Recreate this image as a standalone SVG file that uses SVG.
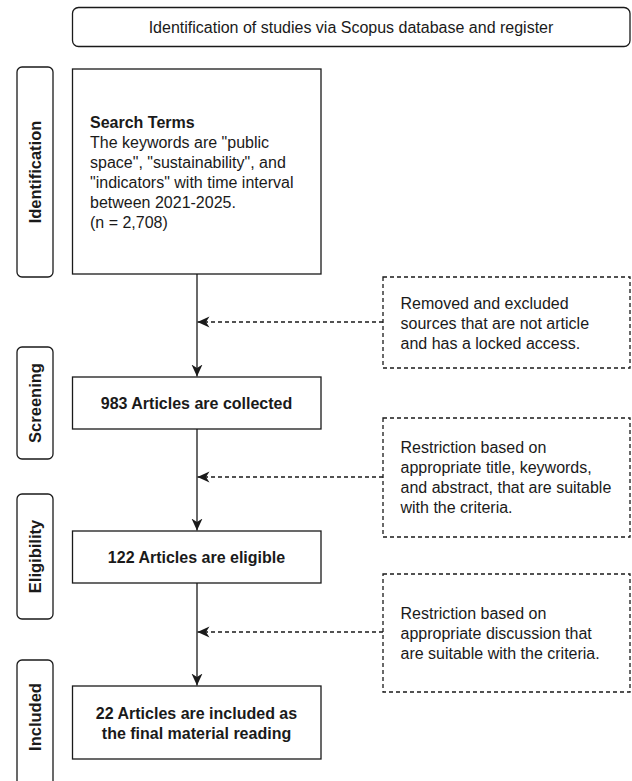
<svg xmlns="http://www.w3.org/2000/svg" width="632" height="781" viewBox="0 0 632 781">
<defs>
<style>
text{font-family:"Liberation Sans",Arial,sans-serif;font-size:16px;fill:#1a1a1a}
.b{font-weight:bold}
.box{fill:#fff;stroke:#1a1a1a;stroke-width:1.3}
.dbox{fill:#fff;stroke:#1a1a1a;stroke-width:1.3;stroke-dasharray:4 3}
.lab{fill:#fff;stroke:#1a1a1a;stroke-width:1.3}
.ln{fill:none;stroke:#1a1a1a;stroke-width:1.3}
.dl{fill:none;stroke:#1a1a1a;stroke-width:1.3;stroke-dasharray:4 3}
.lt{font-weight:bold;font-size:16.5px;text-anchor:middle}
.c{text-anchor:middle}
</style>
<marker id="arr" viewBox="0 0 12 12" refX="12" refY="6" markerWidth="12" markerHeight="12" markerUnits="userSpaceOnUse" orient="auto">
<path d="M0,0.5 L12,6 L0,11.5 L3.5,6 Z" fill="#1a1a1a"/>
</marker>
</defs>
<rect width="632" height="781" fill="#fff"/>

<g id="title">
<rect class="box" x="72.5" y="7.5" width="557.5" height="39" rx="6"/>
<text class="c" x="351" y="33">Identification of studies via Scopus database and register</text>
</g>

<g id="label-identification">
<rect class="lab" x="17" y="67" width="36" height="210" rx="5"/>
<text class="lt" transform="translate(35,172) rotate(-90)" y="6">Identification</text>
</g>
<g id="label-screening">
<rect class="lab" x="17" y="347" width="36" height="112" rx="5"/>
<text class="lt" transform="translate(35,403) rotate(-90)" y="6">Screening</text>
</g>
<g id="label-eligibility">
<rect class="lab" x="17" y="494" width="36" height="125" rx="5"/>
<text class="lt" transform="translate(35,556.5) rotate(-90)" y="6">Eligibility</text>
</g>
<g id="label-included">
<rect class="lab" x="17" y="660" width="36" height="150" rx="5"/>
<text class="lt" transform="translate(35,717) rotate(-90)" y="6">Included</text>
</g>

<g id="search-terms">
<rect class="box" x="72.5" y="69" width="248.5" height="205"/>
<text class="b" x="90" y="127.5">Search Terms</text>
<text x="90" y="147.6">The keywords are "public</text>
<text x="90" y="167.7">space", "sustainability", and</text>
<text x="90" y="187.8">"indicators" with time interval</text>
<text x="90" y="207.9">between 2021-2025.</text>
<text x="90" y="228">(n = 2,708)</text>
</g>

<g id="collected">
<rect class="box" x="72.5" y="377" width="248.5" height="52"/>
<text class="b c" x="196.5" y="409">983 Articles are collected</text>
</g>

<g id="eligible">
<rect class="box" x="72.5" y="531" width="248.5" height="52"/>
<text class="b c" x="196.5" y="563">122 Articles are eligible</text>
</g>

<g id="included">
<rect class="box" x="72.5" y="686" width="248.5" height="73"/>
<text class="b c" x="196.5" y="719">22 Articles are included as</text>
<text class="b c" x="196.5" y="739">the final material reading</text>
</g>

<g id="removed">
<rect class="dbox" x="383" y="277" width="247" height="91"/>
<text x="400.5" y="308.5">Removed and excluded</text>
<text x="400.5" y="328.5">sources that are not article</text>
<text x="400.5" y="348.5">and has a locked access.</text>
</g>

<g id="restriction-1">
<rect class="dbox" x="383" y="418" width="247" height="119"/>
<text x="400.5" y="453">Restriction based on</text>
<text x="400.5" y="473">appropriate title, keywords,</text>
<text x="400.5" y="493">and abstract, that are suitable</text>
<text x="400.5" y="513">with the criteria.</text>
</g>

<g id="restriction-2">
<rect class="dbox" x="383" y="574" width="247" height="118"/>
<text x="400.5" y="619">Restriction based on</text>
<text x="400.5" y="639">appropriate discussion that</text>
<text x="400.5" y="659">are suitable with the criteria.</text>
</g>

<g id="connectors">
<path class="ln" d="M197,274 L197,376.5" marker-end="url(#arr)"/>
<path class="ln" d="M197,429 L197,530.5" marker-end="url(#arr)"/>
<path class="ln" d="M197,583 L197,685.5" marker-end="url(#arr)"/>
<path class="dl" d="M383,322 L197.5,322" marker-end="url(#arr)"/>
<path class="dl" d="M383,477 L197.5,477" marker-end="url(#arr)"/>
<path class="dl" d="M383,632 L197.5,632" marker-end="url(#arr)"/>
</g>
</svg>
